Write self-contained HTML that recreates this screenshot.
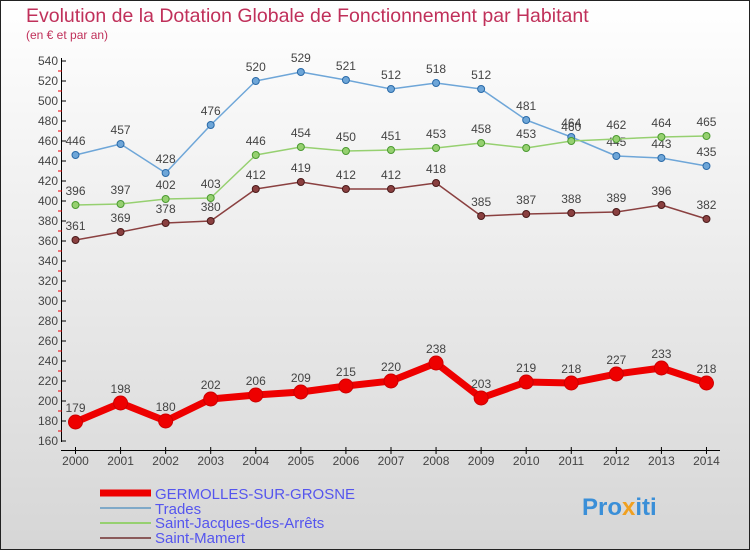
<!DOCTYPE html>
<html><head><meta charset="utf-8"><style>
body{margin:0;width:750px;height:550px;overflow:hidden;font-family:"Liberation Sans",sans-serif}
svg{display:block}
</style></head><body>
<svg id="chart" width="750" height="550" xmlns="http://www.w3.org/2000/svg">
<defs><linearGradient id="bg" x1="0" y1="0" x2="0" y2="1"><stop offset="0" stop-color="#ffffff"/><stop offset="1" stop-color="#d6d6d6"/></linearGradient></defs>
<rect x="0.5" y="0.5" width="749" height="549" fill="url(#bg)" stroke="#222"/>
<text x="26" y="22" font-size="19.5" fill="#c0305a">Evolution de la Dotation Globale de Fonctionnement par Habitant</text>
<text x="26" y="39" font-size="12" fill="#c0305a">(en € et par an)</text>
<g id="axes"></g><g id="series"></g>
<g>
<line x1="100" y1="493" x2="151" y2="493" stroke="#e00" stroke-width="7"/>
<text x="155" y="499" font-size="15" fill="#5555ee">GERMOLLES-SUR-GROSNE</text>
<line x1="100" y1="508" x2="151" y2="508" stroke="#7fa9c8" stroke-width="2"/>
<text x="155" y="514" font-size="15" fill="#5555ee">Trades</text>
<line x1="100" y1="523" x2="151" y2="523" stroke="#96d070" stroke-width="2"/>
<text x="155" y="528" font-size="15" fill="#5555ee">Saint-Jacques-des-Arrêts</text>
<line x1="100" y1="538" x2="151" y2="538" stroke="#8a5a5a" stroke-width="2"/>
<text x="155" y="543" font-size="15" fill="#5555ee">Saint-Mamert</text>
</g>
<text x="582" y="515" font-size="24" font-weight="bold"><tspan fill="#3a8fd8">Pro</tspan><tspan fill="#f0a020">x</tspan><tspan fill="#3a8fd8">iti</tspan></text>
</svg>
<script>
const years=[2000,2001,2002,2003,2004,2005,2006,2007,2008,2009,2010,2011,2012,2013,2014];
const germolles=[179,198,180,202,206,209,215,220,238,203,219,218,227,233,218];
const trades=[446,457,428,476,520,529,521,512,518,512,481,464,445,443,435];
const saintJacques=[396,397,402,403,446,454,450,451,453,458,453,460,462,464,465];
const saintMamert=[361,369,378,380,412,419,412,412,418,385,387,388,389,396,382];
const yTicks=[160,180,200,220,240,260,280,300,320,340,360,380,400,420,440,460,480,500,520,540];
const NS="http://www.w3.org/2000/svg";
const X=i=>75.5+i*45.07, Y=v=>441-(v-160);
function el(t,a,p){const e=document.createElementNS(NS,t);for(const k in a)e.setAttribute(k,a[k]);p.appendChild(e);return e;}
const ax=document.getElementById('axes');
el('line',{x1:61.5,y1:58,x2:61.5,y2:442,stroke:'#000'},ax);
el('line',{x1:61,y1:450.5,x2:720,y2:450.5,stroke:'#000'},ax);
yTicks.forEach(v=>{
 el('line',{x1:61,y1:Y(v),x2:66,y2:Y(v),stroke:'#000'},ax);
 if(v<540) el('line',{x1:58,y1:Y(v+10),x2:62,y2:Y(v+10),stroke:'#e00'},ax);
 const t=el('text',{x:58,y:Y(v)+4,'font-size':12,fill:'#444','text-anchor':'end'},ax);
 
 
 t.textContent=v;
});
years.forEach((yr,i)=>{
 el('line',{x1:X(i),y1:447,x2:X(i),y2:454,stroke:'#000'},ax);
 const t=el('text',{x:X(i),y:465,'font-size':12,fill:'#444','text-anchor':'middle'},ax);
 
 
 t.textContent=yr;
});
const sg=document.getElementById('series');
function draw(vals,color,w,r,name,dotStroke){
 const g=el('g',{},sg);
 
 
 el('polyline',{points:vals.map((v,i)=>X(i)+','+Y(v)).join(' '),fill:'none',stroke:color,'stroke-width':w,'stroke-linejoin':'round'},g);
 vals.forEach((v,i)=>{
  const c=el('circle',{cx:X(i),cy:Y(v),r:r,fill:color,stroke:dotStroke,'stroke-width':1},g);
  
  
  const t=el('text',{x:X(i),y:Y(v)-10,'font-size':12,fill:'#444','text-anchor':'middle'},g);
  
  
  t.textContent=v;
 });
}
draw(trades,'#6ea6d8',1.5,3.5,'series-trades','#2a6aa8');
draw(saintJacques,'#96d070',1.5,3.5,'series-saint-jacques','#4a9a30');
draw(saintMamert,'#8a4040',1.5,3.5,'series-saint-mamert','#4a1a1a');
draw(germolles,'#ee0000',7,7,'series-germolles','#cc0000');
</script>
</body></html>
